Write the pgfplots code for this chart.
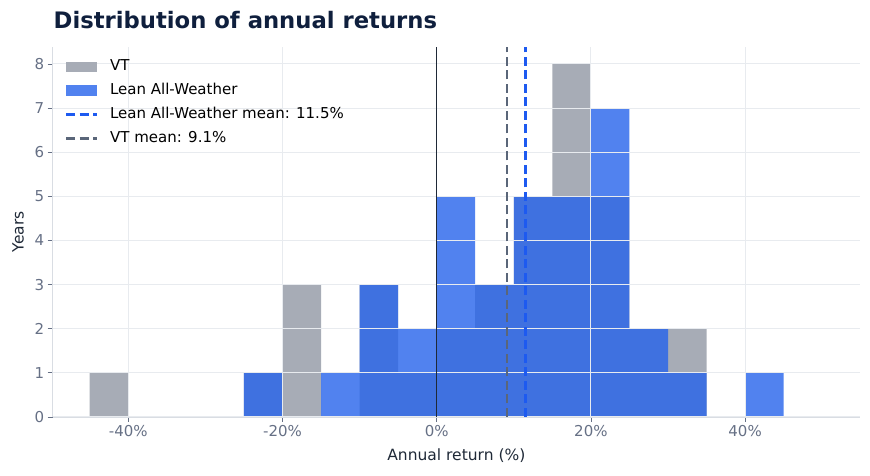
\documentclass[border=0pt]{standalone}
\usepackage{pgfplots}
\pgfplotsset{compat=1.18}
\usepackage{fontspec}
\setmainfont{DejaVu Sans}
\definecolor{vtgray}{HTML}{A7ACB6}
\definecolor{lawblue}{HTML}{2563EB}
\definecolor{gridc}{HTML}{E8EBEF}
\definecolor{spine}{HTML}{D9DDE3}
\definecolor{tickc}{HTML}{667085}
\definecolor{labc}{HTML}{1F2937}
\definecolor{titlec}{HTML}{0F1F3D}
\definecolor{vtmean}{HTML}{5A6679}
\definecolor{lawmean}{HTML}{1D5AF0}
\definecolor{zeroc}{HTML}{1F2937}
\pgfplotsset{
  barleg/.style={legend image code/.code={\fill[##1] (0pt,-5.2pt) rectangle (30.6pt,5.2pt);}},
  lineleg/.style={legend image code/.code={\draw[##1] (0pt,0pt) -- (30.6pt,0pt);}},
}
\begin{document}
\begin{tikzpicture}
\begin{axis}[
  name=ax,
  set layers=axis on top,
  scale only axis, width=807.3pt, height=370.3pt,
  xmin=-49.8, xmax=54.9, ymin=0, ymax=8.39,
  axis x line*=bottom, axis y line*=left,
  axis line style={spine, line width=0.8pt},
  tick align=outside, major tick length=5pt,
  tick style={tickc, line width=0.8pt},
  xtick={-40,-20,0,20,40}, xticklabels={-40\%,-20\%,0\%,20\%,40\%},
  ytick={0,1,2,3,4,5,6,7,8},
  grid=major, major grid style={gridc, line width=1pt},
  axis on top,
  /pgf/number format/assume math mode=true,
  ticklabel style={font=\fontsize{15}{18}\selectfont, text=tickc},
  xlabel={Annual return (\%)},
  ylabel={Years},
  xlabel style={at={(axis description cs:0.5,-0.1188)}, anchor=base, font=\fontsize{15.5}{18}\selectfont, text=labc},
  ylabel style={at={(axis description cs:-0.036,0.5)}, anchor=base, font=\fontsize{15.5}{18}\selectfont, text=labc},
  title={Distribution of annual returns},
  title style={at={(axis description cs:0.001,1.0335)}, anchor=base west, inner sep=0pt, font=\bfseries\fontsize{22.7}{27}\selectfont, text=titlec},
  legend style={at={(0,1)}, anchor=north west, draw=none, fill=none, inner sep=0pt,
    xshift=12pt, yshift=-11pt, row sep=5.8pt, /tikz/column sep=10pt,
    font=\fontsize{15}{18}\selectfont,
    nodes={inner sep=2pt, text height=11pt, text depth=3pt}},
  legend cell align=left,
]
\addplot[ybar interval, fill=vtgray, draw=none, barleg] coordinates {
  (-45,1) (-40,0) (-35,0) (-30,0) (-25,1) (-20,3) (-15,0) (-10,3) (-5,1)
  (0,2) (5,3) (10,5) (15,8) (20,5) (25,2) (30,2) (35,0)};
\addlegendentry{VT}
\addplot[ybar interval, fill=lawblue, fill opacity=0.8, draw=none, barleg] coordinates {
  (-25,1) (-20,0) (-15,1) (-10,3) (-5,2) (0,5) (5,3) (10,5) (15,5)
  (20,7) (25,2) (30,1) (35,0) (40,1) (45,0)};
\addlegendentry{Lean All-Weather}
\addplot[zeroc, line width=1.3pt, forget plot, on layer=axis foreground] coordinates {(0,0) (0,8.39)};
\addplot[lawmean, line width=2.6pt, dash pattern=on 9pt off 4.5pt, lineleg, on layer=axis foreground] coordinates {(11.5,0) (11.5,8.39)};
\addlegendentry{Lean All-Weather mean: 11.5\%}
\addplot[vtmean, line width=2.6pt, dash pattern=on 9pt off 4.5pt, lineleg, on layer=axis foreground] coordinates {(9.1,0) (9.1,8.39)};
\addlegendentry{VT mean: 9.1\%}
\end{axis}
\pgfresetboundingbox
\path ([xshift=-52.7pt,yshift=-59pt]ax.south west) rectangle ([xshift=10pt,yshift=46.7pt]ax.north east);
\end{tikzpicture}
\end{document}
